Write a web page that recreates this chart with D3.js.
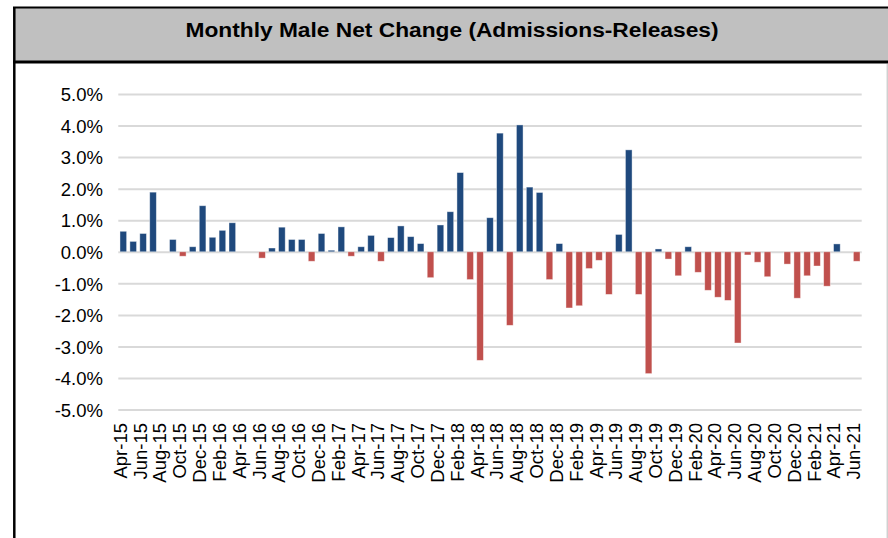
<!doctype html>
<html lang="en">
<head>
  <meta charset="UTF-8" />
  <script src="https://cdn.jsdelivr.net/npm/d3@7"></script>
  <style>
    body { margin: 0; background: #fff; }
    text { font-family: "Liberation Sans", Arial, sans-serif; fill: #000; }
    .grid line { stroke: #d9d9d9; stroke-width: 2; }
    .grid path { display: none; }
    .axis path, .axis line { display: none; }
  </style>
  <title>Monthly Male Net Change</title>
</head>
<body>
  <script>
    // months Apr-15 .. Jun-21
    var months = ["Apr-15","May-15","Jun-15","Jul-15","Aug-15","Sep-15","Oct-15","Nov-15","Dec-15",
      "Jan-16","Feb-16","Mar-16","Apr-16","May-16","Jun-16","Jul-16","Aug-16","Sep-16","Oct-16","Nov-16","Dec-16",
      "Jan-17","Feb-17","Mar-17","Apr-17","May-17","Jun-17","Jul-17","Aug-17","Sep-17","Oct-17","Nov-17","Dec-17",
      "Jan-18","Feb-18","Mar-18","Apr-18","May-18","Jun-18","Jul-18","Aug-18","Sep-18","Oct-18","Nov-18","Dec-18",
      "Jan-19","Feb-19","Mar-19","Apr-19","May-19","Jun-19","Jul-19","Aug-19","Sep-19","Oct-19","Nov-19","Dec-19",
      "Jan-20","Feb-20","Mar-20","Apr-20","May-20","Jun-20","Jul-20","Aug-20","Sep-20","Oct-20","Nov-20","Dec-20",
      "Jan-21","Feb-21","Mar-21","Apr-21","May-21","Jun-21"];

    // net change in percent
    var netChange = [0.65, 0.33, 0.58, 1.89, 0, 0.39, -0.14, 0.16, 1.46,
      0.46, 0.68, 0.92, 0, 0, -0.2, 0.12, 0.78, 0.39, 0.39, -0.3, 0.58,
      0.05, 0.79, -0.14, 0.16, 0.52, -0.3, 0.45, 0.82, 0.48, 0.26, -0.82, 0.85,
      1.27, 2.51, -0.88, -3.44, 1.08, 3.76, -2.33, 4.02, 2.05, 1.88, -0.88, 0.26,
      -1.78, -1.71, -0.53, -0.27, -1.35, 0.55, 3.23, -1.35, -3.86, 0.09, -0.23, -0.76,
      0.16, -0.65, -1.22, -1.44, -1.54, -2.89, -0.1, -0.33, -0.79, 0, -0.39, -1.47,
      -0.76, -0.45, -1.09, 0.25, 0, -0.3];

    var yTicks = [5, 4, 3, 2, 1, 0, -1, -2, -3, -4, -5];

    var W = 888, H = 538;
    var svg = d3.select("body").append("svg").attr("width", W).attr("height", H);

    // header band
    svg.append("rect").attr("x", 14).attr("y", 8).attr("width", W - 14).attr("height", 54)
      .attr("fill", "#c0c0c0");
    svg.append("line").attr("x1", 13).attr("x2", W).attr("y1", 7.5).attr("y2", 7.5)
      .attr("stroke", "#000").attr("stroke-width", 2);
    svg.append("line").attr("x1", 13).attr("x2", W).attr("y1", 62).attr("y2", 62)
      .attr("stroke", "#000").attr("stroke-width", 3);
    svg.append("line").attr("x1", 14.3).attr("x2", 14.3).attr("y1", 7).attr("y2", H)
      .attr("stroke", "#000").attr("stroke-width", 2.5);
    svg.append("line").attr("x1", 887.3).attr("x2", 887.3).attr("y1", 64).attr("y2", H)
      .attr("stroke", "#d0d0d0").attr("stroke-width", 1.5);

    svg.append("text").attr("x", 452).attr("y", 37)
      .attr("text-anchor", "middle")
      .style("font-size", "20px").style("font-weight", "bold")
      .attr("textLength", 533).attr("lengthAdjust", "spacingAndGlyphs")
      .text("Monthly Male Net Change (Admissions-Releases)");

    var x = d3.scaleBand().domain(months).range([118.3, 861.7]).paddingInner(0.33).paddingOuter(0.17);
    var y = d3.scaleLinear().domain([-5, 5]).range([409.6, 94]);

    // grid
    svg.append("g").attr("class", "grid")
      .attr("transform", "translate(118.3,0)")
      .call(d3.axisLeft(y).tickValues(yTicks).tickSize(-(861.7 - 118.3)).tickFormat(""));

    // y labels
    svg.append("g").attr("class", "axis")
      .attr("transform", "translate(103,0)")
      .call(d3.axisLeft(y).tickValues(yTicks).tickSize(0).tickPadding(0)
        .tickFormat(function (d) { return d.toFixed(1) + "%"; }))
      .selectAll("text").style("font-size", "18.5px").attr("dy", "0.36em");

    // bars
    svg.append("g").selectAll("rect").data(months).enter().append("rect")
      .attr("x", function (d) { return x(d); })
      .attr("width", x.bandwidth())
      .attr("y", function (d, i) { return y(Math.max(0, netChange[i])); })
      .attr("height", function (d, i) { return Math.abs(y(netChange[i]) - y(0)); })
      .attr("fill", function (d, i) { return netChange[i] >= 0 ? "#1f497d" : "#c0504d"; })
      .attr("stroke", "#ffffff").attr("stroke-opacity", 0.5).attr("stroke-width", 0.8);

    // x labels every 2nd month
    var xLabels = months.filter(function (d, i) { return i % 2 == 0; });
    svg.append("g").selectAll("text").data(xLabels).enter().append("text")
      .attr("transform", function (d) {
        return "translate(" + (x(d) + x.bandwidth() / 2 + 3.5) + ",423) rotate(-90)";
      })
      .attr("text-anchor", "end")
      .style("font-size", "18.5px")
      .text(function (d) { return d; });
  </script>
</body>
</html>
